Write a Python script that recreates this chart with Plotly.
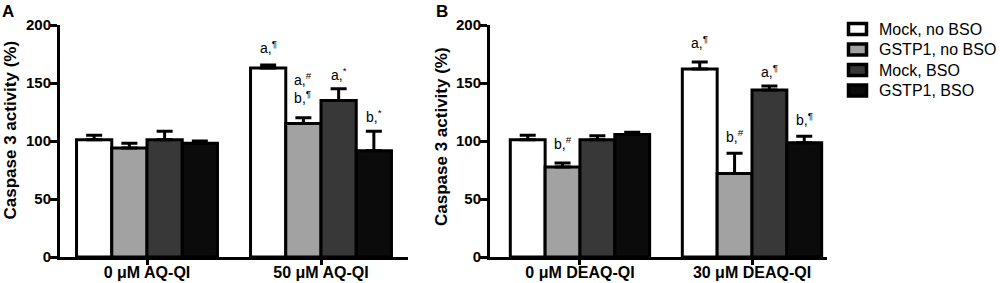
import plotly.graph_objects as go

# ---------------- data ----------------
series_names = ["Mock, no BSO", "GSTP1, no BSO", "Mock, BSO", "GSTP1, BSO"]
series_colors = ["#ffffff", "#a2a2a2", "#383838", "#0b0b0b"]

cats_A = ["0 \u03bcM AQ-QI", "50 \u03bcM AQ-QI"]
vals_A = [[101, 163], [94, 115], [101, 135], [98, 91.5]]
errs_A = [[4, 2.5], [4, 5], [7.5, 10], [2, 17]]

cats_B = ["0 \u03bcM DEAQ-QI", "30 \u03bcM DEAQ-QI"]
vals_B = [[101, 162], [77.5, 72], [101, 144], [105.5, 98.5]]
errs_B = [[4, 6], [3.5, 17.5], [3.5, 3.5], [2, 5.5]]

# significance labels: (category index, series index, text, label y)
labels_A = [(1, 0, "a,<sup>\u00b6</sup>", 171.5),
            (1, 1, "a,<sup>#</sup><br>b,<sup>\u00b6</sup>", 128.4),
            (1, 2, "a,<sup>*</sup>", 148),
            (1, 3, "b,<sup>*</sup>", 112)]
labels_B = [(0, 1, "b,<sup>#</sup>", 89),
            (1, 0, "a,<sup>\u00b6</sup>", 176),
            (1, 1, "b,<sup>#</sup>", 95),
            (1, 2, "a,<sup>\u00b6</sup>", 151),
            (1, 3, "b,<sup>\u00b6</sup>", 109.5)]

y_ticks = [0, 50, 100, 150, 200]

FONT = "Arial, Liberation Sans, sans-serif"
W, H = 1000, 283
BARGAP = 0.19

fig = go.Figure()

for i, name in enumerate(series_names):
    fig.add_trace(go.Bar(
        x=cats_A, y=vals_A[i], name=name, xaxis="x", yaxis="y",
        marker=dict(color=series_colors[i], line=dict(color="black", width=3)),
        error_y=dict(type="data", symmetric=False, array=errs_A[i],
                     arrayminus=[0] * len(errs_A[i]), color="black",
                     thickness=3, width=8),
        showlegend=False))
for i, name in enumerate(series_names):
    fig.add_trace(go.Bar(
        x=cats_B, y=vals_B[i], name=name, xaxis="x2", yaxis="y2",
        marker=dict(color=series_colors[i], line=dict(color="black", width=3)),
        error_y=dict(type="data", symmetric=False, array=errs_B[i],
                     arrayminus=[0] * len(errs_B[i]), color="black",
                     thickness=3, width=8),
        showlegend=False))

nser = len(series_names)
bw = (1 - BARGAP) / nser


def bar_x(ci, si):
    return ci - (1 - BARGAP) / 2 + bw * (si + 0.5)


annotations = []
for ci, si, txt, ly in labels_A:
    annotations.append(dict(x=bar_x(ci, si), y=ly, xref="x", yref="y", text=txt,
                            showarrow=False, xanchor="center", yanchor="bottom",
                            font=dict(family=FONT, size=14, color="black")))
for ci, si, txt, ly in labels_B:
    annotations.append(dict(x=bar_x(ci, si), y=ly, xref="x2", yref="y2", text=txt,
                            showarrow=False, xanchor="center", yanchor="bottom",
                            font=dict(family=FONT, size=14, color="black")))

# panel letters and y titles
annotations += [
    dict(x=0 / W, y=1 - 0 / H, xref="paper", yref="paper", text="A", showarrow=False,
         xanchor="left", yanchor="top", font=dict(family=FONT, size=17, color="black", weight="bold")),
    dict(x=434 / W, y=1 - 0 / H, xref="paper", yref="paper", text="B", showarrow=False,
         xanchor="left", yanchor="top", font=dict(family=FONT, size=17, color="black", weight="bold")),
    dict(x=10.5 / W, y=1 - 130 / H, xref="paper", yref="paper", text="Caspase 3 activity (%)",
         showarrow=False, textangle=-90, xanchor="center", yanchor="middle",
         font=dict(family=FONT, size=17, color="black", weight="bold")),
    dict(x=441 / W, y=1 - 137 / H, xref="paper", yref="paper", text="Caspase 3 activity (%)",
         showarrow=False, textangle=-90, xanchor="center", yanchor="middle",
         font=dict(family=FONT, size=17, color="black", weight="bold")),
]

# manual legend (boxes + text)
shapes = []
leg_rows = [29, 49.5, 70, 90.5]
for i, name in enumerate(series_names):
    cy = leg_rows[i]
    shapes.append(dict(type="rect", xref="paper", yref="paper",
                       x0=848.5 / W, x1=866.5 / W, y0=1 - (cy + 5.5) / H, y1=1 - (cy - 5.5) / H,
                       fillcolor=series_colors[i], line=dict(color="black", width=3.5)))
    annotations.append(dict(x=877 / W, y=1 - cy / H, xref="paper", yref="paper", text=name,
                            showarrow=False, xanchor="left", yanchor="middle",
                            font=dict(family=FONT, size=16, color="black")))

ydom = [26 / H, 258 / H]
xaxis_common = dict(type="category", showline=True, linecolor="black", linewidth=3,
                    ticks="outside", ticklen=5, tickwidth=3, tickcolor="black",
                    showgrid=False, zeroline=False, automargin=False,
                    ticklabelstandoff=-6,
                    tickfont=dict(family=FONT, size=16, color="black", weight="bold"))
yaxis_common = dict(range=[0, 200], tickvals=y_ticks, showline=True, linecolor="black",
                    linewidth=3, ticks="outside", ticklen=7, tickwidth=3, tickcolor="black",
                    showgrid=False, zeroline=False, automargin=False, domain=ydom,
                    ticklabelstandoff=-4,
                    tickfont=dict(family=FONT, size=15, color="black", weight="bold"))

fig.update_layout(
    template="none",
    width=W, height=H,
    margin=dict(l=0, r=0, t=0, b=0),
    paper_bgcolor="white", plot_bgcolor="white",
    barmode="group", bargap=BARGAP, bargroupgap=0,
    xaxis=dict(domain=[60 / W, 408 / W], range=[-0.5, 1.5], anchor="y", **xaxis_common),
    yaxis=dict(anchor="x", **yaxis_common),
    xaxis2=dict(domain=[490 / W, 827 / W], range=[-0.523, 1.436], anchor="y2", **xaxis_common),
    yaxis2=dict(anchor="x2", **yaxis_common),
    annotations=annotations,
    shapes=shapes,
    showlegend=False,
)

fig.write_html("out.html",
               config={"displayModeBar": False},
               post_script="document.body.style.margin='0';document.body.style.padding='0';"
                           "document.body.style.overflow='hidden';")
